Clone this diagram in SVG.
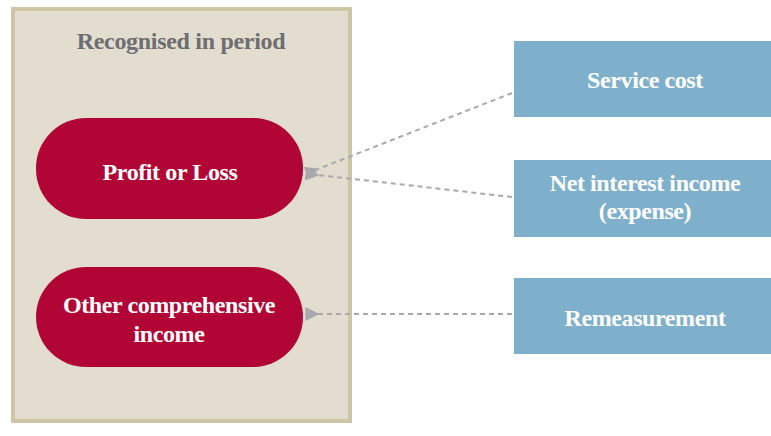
<svg xmlns="http://www.w3.org/2000/svg" width="771" height="436" viewBox="0 0 771 436">
<defs>
<style>
.lbl{font-family:"Liberation Serif","Times New Roman",serif;font-weight:bold;font-size:24px;fill:#ffffff;text-anchor:middle;letter-spacing:-0.4px}
.title{font-family:"Liberation Serif","Times New Roman",serif;font-weight:bold;font-size:24px;fill:#6d6e71;text-anchor:middle;letter-spacing:-0.3px}
.pill{fill:#b00535}
.box{fill:#7eafcb}
.con{stroke:#a7a9ac;stroke-width:2;stroke-dasharray:5 4;fill:none}
</style>
<marker id="ah" viewBox="0 0 10 10" refX="1" refY="5" markerWidth="14" markerHeight="14" markerUnits="userSpaceOnUse" orient="auto">
<path d="M10,0 L0,5 L10,10 Z" fill="#a7a9ac"/>
</marker>
</defs>
<rect width="771" height="436" fill="#ffffff"/>
<g id="period">
<rect x="13" y="9" width="337" height="412" fill="#e3ddd0" stroke="#cdc5a4" stroke-width="4"/>
<text class="title" x="181" y="49">Recognised in period</text>
</g>
<g id="profit-loss">
<rect class="pill" x="36" y="118" width="267" height="101" rx="50" ry="50"/>
<text class="lbl" x="170" y="180">Profit or Loss</text>
</g>
<g id="oci">
<rect class="pill" x="36" y="267" width="267" height="100" rx="50" ry="50"/>
<text class="lbl" x="169" y="313">Other comprehensive</text>
<text class="lbl" x="169" y="342">income</text>
</g>
<g id="service-cost">
<rect class="box" x="514" y="41" width="257" height="76"/>
<text class="lbl" x="645" y="88">Service cost</text>
</g>
<g id="net-interest">
<rect class="box" x="514" y="160" width="257" height="77"/>
<text class="lbl" x="645" y="191">Net interest income</text>
<text class="lbl" x="645" y="219">(expense)</text>
</g>
<g id="remeasurement">
<rect class="box" x="514" y="278" width="257" height="76"/>
<text class="lbl" x="645" y="326">Remeasurement</text>
</g>
<g id="connectors">
<line class="con" x1="512" y1="93" x2="318" y2="169" marker-end="url(#ah)"/>
<line class="con" x1="512" y1="197" x2="318" y2="175" marker-end="url(#ah)"/>
<line class="con" x1="512" y1="314" x2="318" y2="314" marker-end="url(#ah)"/>
</g>
</svg>
